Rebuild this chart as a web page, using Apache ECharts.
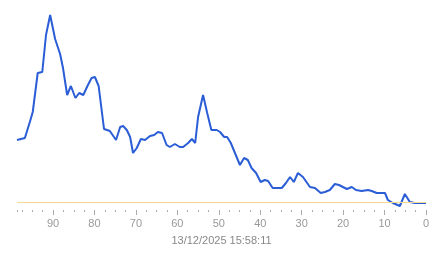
<!DOCTYPE html>
<html>
<head>
<meta charset="utf-8">
<script src="https://cdn.jsdelivr.net/npm/echarts@6/dist/echarts.min.js"></script>
<style>html,body{margin:0;padding:0;background:#fff}#c{width:443px;height:258px}</style>
</head>
<body>
<div id="c"></div>
<script>
// x: minutes ago, y: measured value
const xValues = [98.7,96.8,95.6,94.9,93.7,92.6,91.7,90.7,89.5,88.3,87.6,86.6,85.7,84.6,83.7,82.7,81.7,80.7,79.9,79.0,77.7,76.3,74.8,73.8,73.1,72.2,71.4,70.7,69.8,68.8,67.8,66.6,65.6,64.7,63.7,62.6,61.8,60.6,59.4,58.6,57.4,56.5,55.7,55.0,53.8,52.8,51.8,50.5,49.7,48.7,48.0,47.1,46.1,44.9,43.9,43.0,42.1,41.0,39.9,38.9,38.1,37.0,34.8,33.8,32.8,31.9,30.9,29.7,28.0,26.8,25.4,24.4,23.2,22.0,21.0,19.1,17.9,16.9,15.5,14.0,13.1,11.9,9.9,9.2,8.0,6.3,5.1,3.9,2.7,0];
const yValues = [70,72,88,98,137,138,175,195,171,156,142,115,124,112,117,115,124,132,133,124,81,79,70,83,84,80,73,57,62,71,70,74,75,78,77,65,63,66,63,63,67,71,67,93,115,97,80,80,78,73,73,67,57,45,52,50,42,37,28,30,29,22,22,27,33,28,37,33,23,22,17,18,20,26,25,21,23,20,19,20,19,17,17,10,7,4,16,8,7,7];
const threshold = 8;
const majorTicks = [0,10,20,30,40,50,60,70,80,90];
const minorTicks = [2.5,5,7.5,12.5,15,17.5,22.5,25,27.5,32.5,35,37.5,42.5,45,47.5,52.5,55,57.5,62.5,65,67.5,72.5,75,77.5,82.5,85,87.5,92.5,95,97.5,98.7];
const xMax = 98.7;
const timeLabel = '13/12/2025 15:58:11';

const chart = echarts.init(document.getElementById('c'));
const font = '"Liberation Sans", Arial, sans-serif';
chart.setOption({
  animation: false,
  grid: {left: 17, right: 17, top: 10, bottom: 48},
  xAxis: [{
    type: 'value', min: 0, max: xMax, inverse: true,
    axisLine: {show: false},
    splitLine: {show: false},
    axisTick: {show: true, customValues: majorTicks, length: 5, lineStyle: {color: '#aaa'}},
    axisLabel: {customValues: majorTicks, color: '#999', fontSize: 11, fontFamily: font, margin: 8},
    name: timeLabel, nameLocation: 'middle', nameGap: 25,
    nameTextStyle: {color: '#888', fontSize: 11, fontFamily: font}
  }, {
    type: 'value', min: 0, max: xMax, inverse: true, position: 'bottom',
    axisLine: {show: false}, splitLine: {show: false},
    axisTick: {show: true, customValues: minorTicks, length: 2, lineStyle: {color: '#aaa'}},
    axisLabel: {show: false}
  }],
  yAxis: {type: 'value', min: 0, max: 200, show: false},
  series: [{
    type: 'line',
    data: xValues.map((x, i) => [x, yValues[i]]),
    showSymbol: false,
    lineStyle: {color: '#2a5dd6', width: 2},
    itemStyle: {color: '#2a5dd6'},
    markLine: {
      silent: true, symbol: 'none', label: {show: false},
      lineStyle: {color: '#f3d88e', width: 1, type: 'solid'},
      data: [{yAxis: threshold}]
    },
    z: 3
  }]
});
</script>
</body>
</html>
